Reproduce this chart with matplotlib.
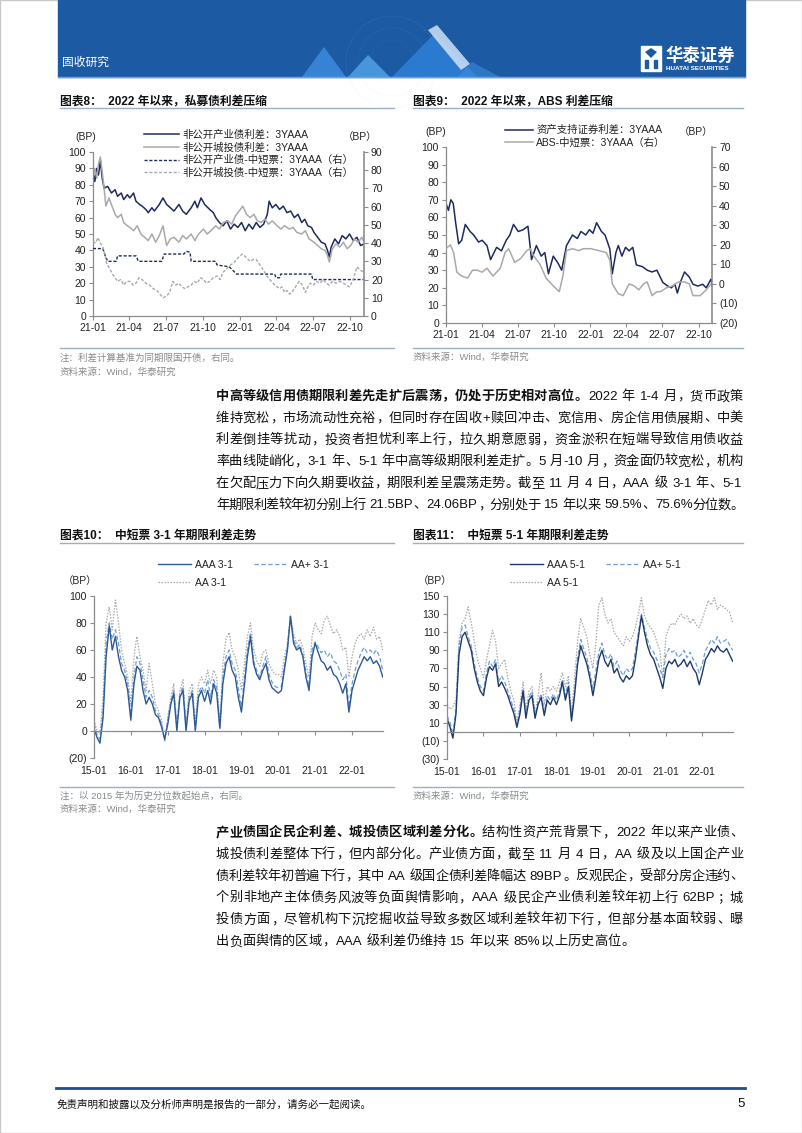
import re
import numpy as np
import pandas as pd
import matplotlib
matplotlib.use("Agg")
import matplotlib.pyplot as plt
import matplotlib.dates as mdates
from matplotlib.ticker import FuncFormatter, MultipleLocator
from matplotlib.patches import Rectangle, Polygon, Ellipse

plt.rcParams["font.family"] = ["Liberation Sans", "Noto Sans CJK SC", "DejaVu Sans"]
plt.rcParams["axes.unicode_minus"] = False

# ---------------- data ----------------
# chart 8 / 9: (months since 2021-01-01, value)
ind_pts = [(0, 88), (0.15, 82), (0.3, 90), (0.45, 86), (0.6, 95), (0.75, 84), (0.9, 78), (1.2, 79), (1.5, 75),
           (1.8, 77), (2.0, 73), (2.3, 75), (2.5, 71), (2.8, 74), (3.0, 72), (3.3, 75), (3.5, 70), (3.8, 68),
           (4.0, 67), (4.3, 65), (4.5, 63), (4.8, 66), (5.0, 64), (5.4, 68), (5.7, 72), (6.0, 68), (6.3, 66),
           (6.6, 64), (7.0, 68), (7.3, 64), (7.6, 62), (8.0, 66), (8.3, 70), (8.5, 66), (8.8, 72), (9.1, 68),
           (9.5, 65), (9.8, 63), (10.0, 60), (10.3, 57), (10.6, 55), (10.9, 58), (11.2, 53), (11.5, 56),
           (11.8, 54), (12.1, 57), (12.4, 52), (12.7, 56), (13.0, 53), (13.3, 57), (13.6, 54), (13.9, 56),
           (14.2, 62), (14.35, 70), (14.6, 66), (14.9, 68), (15.2, 65), (15.5, 67), (15.8, 63), (16.1, 64),
           (16.4, 60), (16.7, 62), (17.0, 57), (17.25, 59), (17.5, 55), (17.8, 54), (18.0, 51), (18.3, 48),
           (18.6, 45), (18.9, 44), (19.1, 40), (19.25, 36), (19.4, 42), (19.7, 47), (20.0, 44), (20.3, 49),
           (20.6, 47), (20.9, 50), (21.2, 46), (21.5, 48), (21.8, 43), (22.1, 44)]
city_pts = [(0, 85), (0.15, 90), (0.3, 84), (0.45, 93), (0.6, 97), (0.75, 88), (0.9, 78), (1.05, 67), (1.3, 72),
            (1.5, 68), (1.8, 62), (2.0, 60), (2.3, 62), (2.5, 57), (2.8, 55), (3.0, 54), (3.3, 52), (3.6, 55),
            (3.9, 50), (4.2, 48), (4.5, 46), (4.8, 50), (5.1, 45), (5.4, 49), (5.7, 55), (5.9, 47), (6.0, 43),
            (6.3, 47), (6.6, 48), (7.0, 45), (7.3, 49), (7.6, 47), (8.0, 50), (8.3, 46), (8.6, 50), (9.0, 53),
            (9.3, 50), (9.6, 52), (10.0, 55), (10.3, 53), (10.6, 57), (11.0, 58), (11.3, 56), (11.6, 61),
            (11.9, 64), (12.2, 67), (12.5, 62), (12.8, 60), (13.1, 62), (13.4, 58), (13.7, 57), (14.0, 59),
            (14.3, 56), (14.6, 58), (15.0, 55), (15.3, 53), (15.6, 55), (16.0, 53), (16.3, 54), (16.6, 51),
            (17.0, 50), (17.3, 52), (17.6, 47), (18.0, 45), (18.3, 43), (18.6, 41), (18.9, 40), (19.1, 37),
            (19.25, 33), (19.5, 41), (19.8, 44), (20.1, 42), (20.4, 45), (20.7, 41), (21.0, 43), (21.3, 47),
            (21.6, 45), (21.9, 48), (22.1, 45)]
ind_mtn_pts = [(0, 37), (0.8, 37), (1.0, 33), (1.2, 30), (1.9, 30), (2.0, 33), (3.5, 33), (3.7, 30), (5.6, 30),
               (5.8, 34), (7.4, 34), (7.6, 35.5), (7.9, 35), (8.0, 30), (10.0, 30), (10.1, 28), (11.1, 27),
               (11.4, 25), (11.7, 23), (14.8, 23), (14.9, 21), (15.2, 21), (15.3, 23), (17.8, 23), (17.9, 20),
               (22.1, 20)]
city_mtn_pts = [(0, 41), (0.2, 40), (0.4, 43), (0.6, 40), (0.8, 38), (1.0, 33), (1.1, 29), (1.35, 26), (1.6, 23),
                (1.8, 21), (2.0, 19), (2.25, 20), (2.5, 17), (2.75, 19), (3.0, 19), (3.25, 17), (3.5, 18),
                (3.75, 21), (4.0, 20), (4.3, 18), (4.6, 17), (4.9, 15), (5.2, 14), (5.45, 12), (5.7, 10),
                (6.0, 11), (6.25, 13), (6.5, 19), (6.75, 17), (7.0, 18), (7.25, 16), (7.5, 15), (7.75, 16),
                (8.0, 17), (8.25, 19), (8.5, 18), (8.75, 21), (9.0, 20), (9.25, 18), (9.5, 19), (9.8, 21),
                (10.1, 22), (10.35, 20), (10.6, 24), (10.9, 26), (11.2, 28), (11.45, 29), (11.7, 31), (11.95, 33),
                (12.2, 34), (12.5, 32), (12.8, 30), (13.05, 31), (13.3, 31), (13.6, 28), (13.9, 25), (14.15, 22),
                (14.4, 20), (14.8, 17), (15.2, 15), (15.4, 16), (15.6, 13), (15.8, 14), (16.0, 12), (16.2, 13),
                (16.4, 15), (16.6, 17), (16.8, 19), (17.05, 17), (17.3, 13), (17.5, 16), (17.7, 18), (17.95, 17),
                (18.2, 19), (18.5, 18), (18.75, 20), (19.0, 18), (19.25, 17), (19.5, 19), (19.8, 18), (20.1, 19),
                (20.4, 18), (20.65, 17), (20.9, 16), (21.2, 20), (21.5, 27), (21.8, 25), (22.1, 24)]
abs_pts = [(0, 68), (0.2, 64), (0.4, 70), (0.6, 68), (0.8, 57), (1.05, 45), (1.3, 47), (1.6, 56), (2.0, 52),
           (2.3, 50), (2.7, 46), (3.0, 47), (3.4, 44), (3.7, 36), (4.2, 43), (4.6, 41), (5.0, 47), (5.3, 50),
           (5.6, 56), (6.0, 52), (6.4, 53), (6.8, 55), (7.1, 36), (7.5, 44), (7.9, 38), (8.2, 40), (8.5, 28),
           (8.9, 38), (9.3, 34), (9.6, 30), (10.0, 44), (10.5, 50), (10.9, 48), (11.2, 52), (11.6, 50),
           (11.9, 53), (12.2, 51), (12.5, 57), (12.9, 52), (13.2, 50), (13.6, 42), (13.8, 28), (14.1, 40),
           (14.3, 44), (14.6, 38), (14.9, 43), (15.2, 41), (15.5, 43), (15.8, 33), (16.3, 32), (16.7, 30),
           (17.1, 29), (17.5, 30), (18.0, 23), (18.4, 21), (18.7, 20), (19.0, 22), (19.2, 17), (19.5, 24),
           (19.8, 29), (20.2, 26), (20.5, 22), (20.9, 21), (21.3, 22), (21.6, 20), (22.0, 25), (22.1, 21)]
abs_mtn_pts = [(0, 18), (0.36, 20), (0.63, 16), (0.9, 6), (1.3, 4), (1.8, 3), (2.2, 7), (2.6, 7), (3.0, 6),
               (3.4, 8), (3.9, 4), (4.5, 8), (4.9, 16), (5.2, 18), (5.7, 11), (6.2, 13), (6.7, 17), (7.0, 18),
               (7.2, 15), (7.8, 10), (8.3, 3), (8.9, -1), (9.4, -4), (9.7, 4), (10.0, 17), (10.5, 18),
               (11.0, 17), (11.4, 18), (12.0, 18), (12.7, 17), (13.3, 16), (13.6, 12), (13.8, 0), (14.3, -5),
               (14.7, -6), (15.2, 0), (15.6, -1), (16.0, -3), (16.4, 0), (16.7, 1), (17.1, -6), (17.5, -4),
               (17.8, -4), (18.3, -2), (18.8, -1), (19.3, 1), (19.8, 1), (20.2, 0), (20.5, -6), (21.1, -6),
               (21.6, -3), (22.0, 0), (22.1, -1)]

# chart 10 / 11: monthly, Jan 2015 .. Nov 2022
aaa_31 = [2, -5, -9, 10, 55, 78, 60, 70, 55, 45, 40, 30,
          8, 35, 48, 45, 30, 20, 25, 20, 12, 10, 3, -6,
          5, 20, 28, 0, 25, 30, 0, 22, 28, 0, 25, 30,
          22, 30, 20, 35, 28, 2, 35, 50, 55, 45, 40, 25,
          14, 35, 55, 70, 50, 42, 38, 45, 50, 38, 32, 30,
          28, 30, 45, 60, 85, 65, 60, 62, 55, 40, 30, 55,
          65, 58, 52, 50, 45, 48, 42, 40, 35, 28, 35, 14,
          30, 38, 45, 50, 55, 52, 55, 50, 52, 48, 40]
aap_31 = [5, -3, -6, 15, 65, 80, 68, 75, 65, 50, 45, 35,
          12, 40, 55, 50, 38, 25, 30, 25, 15, 12, 5, -7,
          8, 22, 30, 3, 27, 33, 2, 25, 30, 3, 28, 33,
          28, 38, 25, 38, 32, 3, 40, 55, 60, 50, 45, 32,
          18, 40, 60, 73, 52, 45, 40, 48, 55, 42, 36, 33,
          32, 33, 48, 62, 85, 68, 62, 64, 57, 44, 33, 60,
          66, 62, 58, 60, 55, 58, 52, 50, 45, 38, 42, 18,
          35, 45, 52, 58, 62, 58, 60, 57, 60, 55, 45]
aa_31 = [8, 0, -2, 25, 80, 92, 75, 97, 80, 60, 50, 40,
         20, 55, 70, 55, 45, 30, 50, 35, 20, 15, 8, -8,
         10, 25, 35, 5, 30, 38, 5, 30, 35, 5, 35, 40,
         35, 45, 35, 45, 40, 5, 50, 68, 73, 60, 55, 45,
         30, 50, 70, 80, 60, 52, 48, 58, 60, 50, 45, 42,
         42, 40, 55, 65, 85, 72, 65, 68, 62, 50, 40, 70,
         80, 75, 72, 82, 85, 78, 72, 75, 70, 60, 62, 40,
         55, 65, 70, 72, 68, 75, 70, 77, 68, 70, 60]
aaa_51 = [15, 5, -7, 20, 85, 105, 110, 100, 90, 70, 55, 45,
          40, 60, 72, 68, 75, 50, 55, 48, 40, 30, 20, 5,
          20, 45, 15, 35, 40, 15, 30, 38, 18, 35, 30, 38,
          30, 40, 55, 35, 50, 12, 40, 75, 95, 85, 75, 60,
          40, 60, 80, 90, 78, 72, 80, 65, 70, 60, 55, 62,
          58, 62, 80, 105, 128, 110, 95, 85, 80, 70, 60, 48,
          70, 78, 75, 80, 72, 75, 80, 72, 78, 70, 65, 52,
          65, 80, 85, 92, 88, 95, 90, 88, 92, 85, 78]
aap_51 = [18, 10, -3, 25, 95, 115, 118, 105, 95, 75, 60, 50,
          45, 65, 78, 72, 80, 55, 62, 55, 45, 35, 25, 8,
          25, 48, 20, 38, 45, 18, 33, 42, 22, 40, 35, 42,
          35, 45, 58, 40, 55, 15, 45, 82, 102, 92, 82, 66,
          48, 68, 88, 98, 85, 80, 86, 72, 78, 68, 62, 70,
          66, 70, 88, 110, 130, 115, 102, 92, 88, 80, 70, 60,
          85, 92, 88, 90, 82, 85, 90, 82, 88, 80, 75, 65,
          75, 90, 95, 102, 98, 105, 98, 100, 102, 96, 90]
aa_51 = [30, 25, 28, 35, 100, 120, 125, 138, 120, 100, 80, 70,
         60, 80, 95, 112, 100, 70, 75, 80, 60, 45, 35, 10,
         30, 55, 25, 45, 50, 20, 40, 65, 30, 50, 45, 50,
         45, 55, 65, 50, 62, 20, 60, 100, 125, 115, 105, 85,
         70, 100, 140, 148, 130, 120, 125, 110, 105, 100, 95, 105,
         100, 105, 115, 130, 148, 128, 120, 115, 110, 100, 90, 60,
         105, 115, 120, 118, 125, 130, 125, 128, 120, 125, 118, 115,
         125, 135, 145, 140, 148, 135, 140, 138, 135, 132, 120]

para1 = [[("中高等级信用债期限利差先走扩后震荡，仍处于历史相对高位。", True), ("2022 年 1-4 月，货币政策", False)],
         [("维持宽松，市场流动性充裕，但同时存在固收+赎回冲击、宽信用、房企信用债展期、中美", False)],
         [("利差倒挂等扰动，投资者担忧利率上行，拉久期意愿弱，资金淤积在短端导致信用债收益", False)],
         [("率曲线陡峭化，3-1 年、5-1 年中高等级期限利差走扩。5 月-10 月，资金面仍较宽松，机构", False)],
         [("在欠配压力下向久期要收益，期限利差呈震荡走势。截至 11 月 4 日，AAA 级 3-1 年、5-1", False)],
         [("年期限利差较年初分别上行 21.5BP、24.06BP，分别处于 15 年以来 59.5%、75.6%分位数。", False)]]
para2 = [[("产业债国企民企利差、城投债区域利差分化。", True), ("结构性资产荒背景下，2022 年以来产业债、", False)],
         [("城投债利差整体下行，但内部分化。产业债方面，截至 11 月 4 日，AA 级及以上国企产业", False)],
         [("债利差较年初普遍下行，其中 AA 级国企债利差降幅达 89BP。反观民企，受部分房企违约、", False)],
         [("个别非地产主体债务风波等负面舆情影响，AAA 级民企产业债利差较年初上行 62BP；城", False)],
         [("投债方面，尽管机构下沉挖掘收益导致多数区域利差较年初下行，但部分基本面较弱、曝", False)],
         [("出负面舆情的区域，AAA 级利差仍维持 15 年以来 85%以上历史高位。", False)]]

# ---------------- figure helpers ----------------
W, H = 802, 1133
fig = plt.figure(figsize=(W / 100, H / 100), dpi=100)
NAVY = "#1f2b5e"
LGRAY = "#a9a9a9"
AXC = "#8c8c8c"
TXT = "#222222"
RULE = "#9bb0c8"
BANNER = "#1c5aa4"


def fy(y):
    return 1 - y / H


def add_ax(x0, y0, x1, y1):
    return fig.add_axes([x0 / W, 1 - y1 / H, (x1 - x0) / W, (y1 - y0) / H])


def ftext(x, y, s, **kw):
    return fig.text(x / W, fy(y), s, **kw)


def hline(x0, x1, y, color, lw):
    fig.add_artist(plt.Line2D([x0 / W, x1 / W], [fy(y), fy(y)], color=color, lw=lw))


def paren(v, pos):
    return f"({abs(v):.0f})" if v < 0 else f"{v:.0f}"


def to_dates(pts):
    start = pd.Timestamp("2021-01-01")
    d = start + pd.to_timedelta([p[0] * 30.44 for p in pts], unit="D")
    return d, [p[1] for p in pts]


def style_left(ax):
    for s in ["top", "right"]:
        ax.spines[s].set_visible(False)
    for s in ["left", "bottom"]:
        ax.spines[s].set_color(AXC)
        ax.spines[s].set_linewidth(0.9)
    ax.tick_params(labelsize=7.5, colors=AXC, labelcolor=TXT, length=3, width=0.8, pad=2)


def style_right(ax):
    for s in ["top", "left", "bottom"]:
        ax.spines[s].set_visible(False)
    ax.spines["right"].set_color(AXC)
    ax.spines["right"].set_linewidth(1.2)
    ax.tick_params(labelsize=7.5, colors=AXC, labelcolor=TXT, length=3, width=0.8, pad=2)


# ---------------- header / footer ----------------
fig.add_artist(Rectangle((0, 0), 1, 1, transform=fig.transFigure, fill=False, ec="#c8c8c8", lw=1))
fig.add_artist(Rectangle((58 / W, fy(77)), (745 - 58) / W, 77 / H, transform=fig.transFigure,
                         color=BANNER, zorder=1))
for cx, cy, r, al in [(392, 62, 46, 0.35), (392, 62, 34, 0.25), (392, 62, 22, 0.2)]:
    fig.add_artist(Ellipse((cx / W, fy(cy)), 2 * r / W, 2 * r / H, transform=fig.transFigure, fill=False,
                           ec="#8cc0f2", lw=0.5, alpha=al, ls=(0, (1, 2)), zorder=2, clip_on=False))
deco = [([(302, 77), (324, 47), (346, 77)], "#3f92e6", 0.75),
        ([(348, 77), (368, 55), (390, 77)], "#5cb0f2", 0.7),
        ([(392, 77), (434, 34), (478, 77)], "#2f80d8", 0.85),
        ([(428, 30), (437, 25), (470, 64), (461, 70)], "#cfe1f7", 0.85),
        ([(458, 77), (472, 62), (500, 77)], "#3a8be0", 0.6)]
for pts, col, al in deco:
    fig.add_artist(Polygon([(x / W, fy(y)) for x, y in pts], closed=True, transform=fig.transFigure,
                           color=col, alpha=al, zorder=2, lw=0))
fig.add_artist(Rectangle((58 / W, fy(0)), (745 - 58) / W, 0.0001, transform=fig.transFigure, color=BANNER))
ftext(62, 63, "固收研究", fontsize=8.5, color="white", va="center", zorder=3)
fig.add_artist(Rectangle((641 / W, fy(71)), 20 / W, 25 / H, transform=fig.transFigure, color="white", zorder=3))
fig.add_artist(Polygon([(645 / W, fy(52)), (651 / W, fy(48)), (657 / W, fy(52)), (651 / W, fy(58))],
                       transform=fig.transFigure, color=BANNER, zorder=4, lw=0))
fig.add_artist(Rectangle((645 / W, fy(68)), 3 / W, 8 / H, transform=fig.transFigure, color=BANNER, zorder=4))
fig.add_artist(Rectangle((654 / W, fy(68)), 3 / W, 8 / H, transform=fig.transFigure, color=BANNER, zorder=4))
ftext(665, 55, "华泰证券", fontsize=12.5, color="white", weight="bold", va="center", zorder=3)
ftext(666, 68, "HUATAI SECURITIES", fontsize=4.6, color="white", weight="bold", va="center", zorder=3)
hline(58, 745, 77, "#6aa3dd", 1.0)

hline(56, 745, 1088, "#1f4e8c", 2.0)
ftext(57, 1104, "免责声明和披露以及分析师声明是报告的一部分，请务必一起阅读。", fontsize=7.6, color="#111",
      style="italic", va="center")
ftext(745, 1104, "5", fontsize=9.5, color="#111", ha="right", va="center")

# ---------------- chart 8 ----------------
ftext(60, 102, "图表8：  2022 年以来，私募债利差压缩", fontsize=8.5, weight="bold", color="#111", va="center")
hline(60, 394, 108, RULE, 1.0)
ax8 = add_ax(93, 152, 364, 316)
ax8r = ax8.twinx()
l1, = ax8.plot(*to_dates(ind_pts), color=NAVY, lw=1.1, label="非公开产业债利差：3YAAA")
l2, = ax8.plot(*to_dates(city_pts), color=LGRAY, lw=1.1, label="非公开城投债利差：3YAAA")
l3, = ax8r.plot(*to_dates(ind_mtn_pts), color=NAVY, lw=1.0, dashes=(2.2, 1.3),
                label="非公开产业债-中短票：3YAAA（右）")
l4, = ax8r.plot(*to_dates(city_mtn_pts), color=LGRAY, lw=1.0, dashes=(2.2, 1.3),
                label="非公开城投债-中短票：3YAAA（右）")
for a in (ax8, ax8r):
    a.set_xlim(pd.Timestamp("2021-01-01"), pd.Timestamp("2022-11-04"))
ax8.set_ylim(0, 100)
ax8.yaxis.set_major_locator(MultipleLocator(10))
ax8r.set_ylim(0, 90)
ax8r.yaxis.set_major_locator(MultipleLocator(10))
ax8.xaxis.set_major_locator(mdates.MonthLocator(bymonth=[1, 4, 7, 10]))
ax8.xaxis.set_major_formatter(mdates.DateFormatter("%y-%m"))
style_left(ax8)
style_right(ax8r)
ax8r.legend(handles=[l1, l2, l3, l4], loc="upper left", bbox_to_anchor=(144 / W, fy(130)),
            bbox_transform=fig.transFigure, frameon=False, fontsize=7.5, handlelength=3.4,
            handletextpad=0.3, labelspacing=0.22, borderpad=0, borderaxespad=0, labelcolor=TXT)
ftext(75, 137, "(BP)", fontsize=7.5, color=TXT, va="center")
ftext(377, 137, "（BP）", fontsize=7.5, color=TXT, va="center", ha="right")
hline(60, 394, 348, RULE, 1.0)
ftext(60, 358, "注：利差计算基准为同期限国开债，右同。", fontsize=6.8, color="#8a8a8a", va="center")
ftext(60, 372, "资料来源：Wind，华泰研究", fontsize=6.8, color="#8a8a8a", va="center")

# ---------------- chart 9 ----------------
ftext(413, 102, "图表9：  2022 年以来，ABS 利差压缩", fontsize=8.5, weight="bold", color="#111", va="center")
hline(413, 743, 108, RULE, 1.0)
ax9 = add_ax(446, 147, 712, 323)
ax9r = ax9.twinx()
m1, = ax9.plot(*to_dates(abs_pts), color=NAVY, lw=1.1, label="资产支持证券利差：3YAAA")
m2, = ax9r.plot(*to_dates(abs_mtn_pts), color=LGRAY, lw=1.1, label="ABS-中短票：3YAAA（右）")
for a in (ax9, ax9r):
    a.set_xlim(pd.Timestamp("2021-01-01"), pd.Timestamp("2022-11-04"))
ax9.set_ylim(0, 100)
ax9.yaxis.set_major_locator(MultipleLocator(10))
ax9r.set_ylim(-20, 70)
ax9r.yaxis.set_major_locator(MultipleLocator(10))
ax9r.yaxis.set_major_formatter(FuncFormatter(paren))
ax9.xaxis.set_major_locator(mdates.MonthLocator(bymonth=[1, 4, 7, 10]))
ax9.xaxis.set_major_formatter(mdates.DateFormatter("%y-%m"))
style_left(ax9)
style_right(ax9r)
ax9r.legend(handles=[m1, m2], loc="upper left", bbox_to_anchor=(505 / W, fy(125)),
            bbox_transform=fig.transFigure, frameon=False, fontsize=7.5, handlelength=2.7,
            handletextpad=0.3, labelspacing=0.22, borderpad=0, borderaxespad=0, labelcolor=TXT)
ftext(425, 132, "(BP)", fontsize=7.5, color=TXT, va="center")
ftext(713, 132, "（BP）", fontsize=7.5, color=TXT, va="center", ha="right")
hline(413, 743, 348, RULE, 1.0)
ftext(413, 357, "资料来源：Wind，华泰研究", fontsize=6.8, color="#8a8a8a", va="center")


# ---------------- charts 10 / 11 ----------------
def term_chart(ax, aaa, aap, aa, names, ylo, yhi, step, colors):
    dates = pd.date_range("2015-01-01", periods=len(aaa), freq="MS")
    h3, = ax.plot(dates, aa, color=LGRAY, lw=0.9, dashes=(1.2, 1.2), label=names[2])
    h2, = ax.plot(dates, aap, color=colors[1], lw=0.9, dashes=(3.5, 2.0), label=names[1])
    h1, = ax.plot(dates, aaa, color=colors[0], lw=1.0, label=names[0])
    ax.set_xlim(pd.Timestamp("2015-01-01"), pd.Timestamp("2022-11-04"))
    ax.set_ylim(ylo, yhi)
    ax.set_yticks(np.arange(ylo, yhi + 1, step))
    ax.yaxis.set_major_formatter(FuncFormatter(paren))
    ax.xaxis.set_major_locator(mdates.YearLocator())
    ax.xaxis.set_major_formatter(mdates.DateFormatter("%y-%m"))
    style_left(ax)
    ax.spines["bottom"].set_position(("data", 0))
    ax.tick_params(axis="x", pad=22)
    return [h1, h3, h2]


ftext(60, 536, "图表10：  中短票 3-1 年期限利差走势", fontsize=8.5, weight="bold", color="#111", va="center")
hline(60, 394, 543, RULE, 1.0)
ax10 = add_ax(94, 596, 383, 758)
hs = term_chart(ax10, aaa_31, aap_31, aa_31, ["AAA 3-1", "AA+ 3-1", "AA 3-1"], -20, 100, 20,
                ["#2c5a96", "#6f9fd6"])
ax10.legend(handles=hs, ncol=2, loc="upper left", bbox_to_anchor=(158 / W, fy(560)),
            bbox_transform=fig.transFigure, frameon=False, fontsize=7.5, handlelength=3.2,
            handletextpad=0.35, labelspacing=0.75, columnspacing=2.0, borderpad=0, borderaxespad=0,
            labelcolor=TXT)
ftext(97, 581, "（BP）", fontsize=7.5, color=TXT, va="center", ha="right")
hline(60, 394, 787, RULE, 1.0)
ftext(60, 796, "注：以 2015 年为历史分位数起始点，右同。", fontsize=6.8, color="#8a8a8a", va="center")
ftext(60, 809, "资料来源：Wind，华泰研究", fontsize=6.8, color="#8a8a8a", va="center")

ftext(413, 536, "图表11：  中短票 5-1 年期限利差走势", fontsize=8.5, weight="bold", color="#111", va="center")
hline(413, 743, 543, RULE, 1.0)
ax11 = add_ax(447, 596, 733, 759)
hs = term_chart(ax11, aaa_51, aap_51, aa_51, ["AAA 5-1", "AA+ 5-1", "AA 5-1"], -30, 150, 20,
                ["#1f3a6a", "#6f9fd6"])
ax11.legend(handles=hs, ncol=2, loc="upper left", bbox_to_anchor=(510 / W, fy(560)),
            bbox_transform=fig.transFigure, frameon=False, fontsize=7.5, handlelength=3.2,
            handletextpad=0.35, labelspacing=0.75, columnspacing=2.0, borderpad=0, borderaxespad=0,
            labelcolor=TXT)
ftext(452, 581, "（BP）", fontsize=7.5, color=TXT, va="center", ha="right")
hline(413, 743, 787, RULE, 1.0)
ftext(413, 796, "资料来源：Wind，华泰研究", fontsize=6.8, color="#8a8a8a", va="center")

# ---------------- justified body text ----------------
TOKEN = re.compile(r"[A-Za-z0-9.%+\-]+| |.")
renderer = fig.canvas.get_renderer()


def put_line(segs, x0, x1, y, last=False, size=9.5):
    em = size * 100 / 72
    items = []
    for s, bold in segs:
        for tok in TOKEN.findall(s):
            if tok == " ":
                if items:
                    items[-1][2] += 1
                continue
            items.append([tok, bold, 0])
    arts, adv = [], []
    for tok, bold, sp in items:
        wt = "bold" if bold else "normal"
        if len(tok) == 1 and ord(tok) > 0x2E80:
            if tok in "，。、：；）":
                ha = "left"
            elif tok == "（":
                ha = "right"
            else:
                ha = "center"
            t = ftext(0, y, tok, fontsize=size, weight=wt, color="#111", va="center", ha=ha)
            arts.append((t, ha))
            adv.append(em)
        else:
            t = ftext(0, y, tok, fontsize=size, weight=wt, color="#111", va="center", ha="left")
            w = t.get_window_extent(renderer=renderer).width
            arts.append((t, "latin"))
            adv.append(w + 0.12 * em)
    space = 0.28 * em
    nat = sum(adv) + sum(it[2] for it in items[:-1]) * space
    justify = (not last) or nat > (x1 - x0)
    extra = (x1 - x0 - nat) / (len(items) - 1) if justify and len(items) > 1 else 0.0
    x = x0
    for (t, kind), a, it in zip(arts, adv, items):
        if kind == "center":
            t.set_x((x + a / 2) / W)
        elif kind == "right":
            t.set_x((x + a * 0.95) / W)
        elif kind == "left":
            t.set_x((x + a * 0.05) / W)
        else:
            t.set_x((x + 0.06 * em) / W)
        x += a + it[2] * space + extra


def put_par(lines, x0, x1, y0, dy):
    for i, segs in enumerate(lines):
        put_line(segs, x0, x1, y0 + i * dy, last=(i == len(lines) - 1))


put_par(para1, 216, 743, 397, 21.7)
put_par(para2, 216, 743, 833, 21.8)

fig.savefig("out.png", dpi=100)
